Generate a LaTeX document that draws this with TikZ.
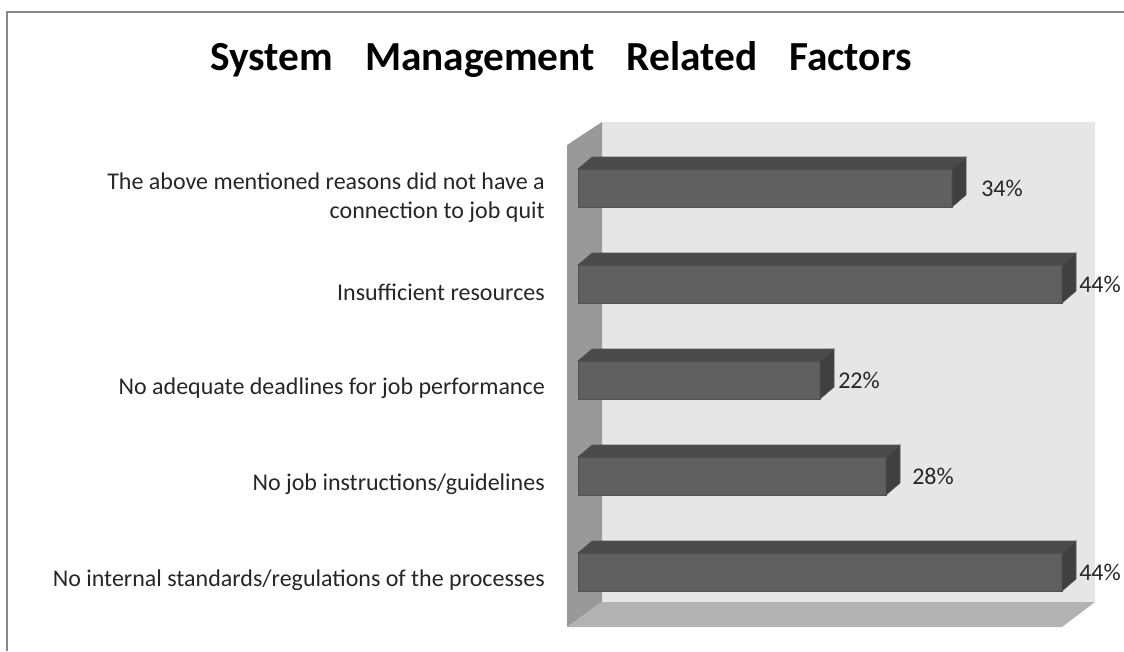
\documentclass[tikz,border=0pt]{standalone}
\usepackage{fontspec}
\setmainfont{Carlito}
\usetikzlibrary{positioning}
\definecolor{wallback}{RGB}{230,230,230}
\definecolor{wallside}{RGB}{153,153,153}
\definecolor{wallfloor}{RGB}{178,178,178}
\definecolor{barfront}{RGB}{96,96,96}
\definecolor{bartop}{RGB}{74,74,74}
\definecolor{barend}{RGB}{64,64,64}
\definecolor{barline}{RGB}{80,80,80}
\definecolor{framegray}{RGB}{136,136,136}
\tikzset{
    charttitle/.style={
           font=\bfseries\fontsize{31}{36}\selectfont,
           inner sep=0pt,
           anchor=base,
           },
    category/.style={
           font=\fontsize{18}{22}\selectfont,
           text=black!85,
           align=right,
           inner sep=0pt,
           anchor=east,
           },
    pct/.style={
           font=\fontsize{18}{22}\selectfont,
           text=black!85,
           inner sep=0pt,
           anchor=west,
           },
    barface/.style={
           draw=barline, line width=0.4pt,
           },
}

\begin{document}
\begin{tikzpicture}[x=0.75pt,y=-0.75pt]
        % canvas with the size of the picture
        \useasboundingbox (0,0) rectangle (1124,651);
        % chart frame, only left and top edges are in view
        \draw[framegray, line width=1.5pt] (7,651) -- (7,12) -- (1124,12);

        % TITLE
        \node[charttitle] (TITLE) at (561,70)
        {System\hspace{0.55em} Management\hspace{0.55em} Related\hspace{0.55em} Factors};

        % walls of the 3D plot area: back, side, floor
        \fill[wallback]  (602,122) rectangle (1095,602);
        \fill[wallside]  (567,145) -- (602,122) -- (602,602) -- (567,627) -- cycle;
        \fill[wallfloor] (567,627) -- (602,602) -- (1095,602) -- (1062,627) -- cycle;

        % BARS: value / row / gap to the percent label
        \foreach \val/\row/\gap in {34/0/29, 44/1/17, 22/2/18, 28/3/26, 44/4/17}{
            \pgfmathsetmacro{\ytop}{169+96*\row}
            \pgfmathsetmacro{\xend}{578+11*\val}
            % front, top and end face
            \filldraw[barface, fill=barfront] (578,\ytop) rectangle (\xend,\ytop+38);
            \filldraw[barface, fill=bartop] (578,\ytop) -- (592,\ytop-12)
                -- (\xend+14,\ytop-12) -- (\xend,\ytop) -- cycle;
            \filldraw[barface, fill=barend] (\xend,\ytop) -- (\xend+14,\ytop-12)
                -- (\xend+14,\ytop+26) -- (\xend,\ytop+38) -- cycle;
            % value label
            \node[pct] (PCT\row) at (\xend+\gap,\ytop+19) {\val\%};
        }

        % CATEGORIES
        \node[category] (C_NOLINK) at (545,198)
        {The above mentioned reasons did not have a\\connection to job quit};
        \node[category] (C_RESOURCES) at (545,292) {Insufficient resources};
        \node[category] (C_DEADLINES) at (545,388) {No adequate deadlines for job performance};
        \node[category] (C_GUIDES) at (545,484) {No job instructions/guidelines};
        \node[category] (C_STANDARDS) at (545,580) {No internal standards/regulations of the processes};

\end{tikzpicture}
\end{document}
